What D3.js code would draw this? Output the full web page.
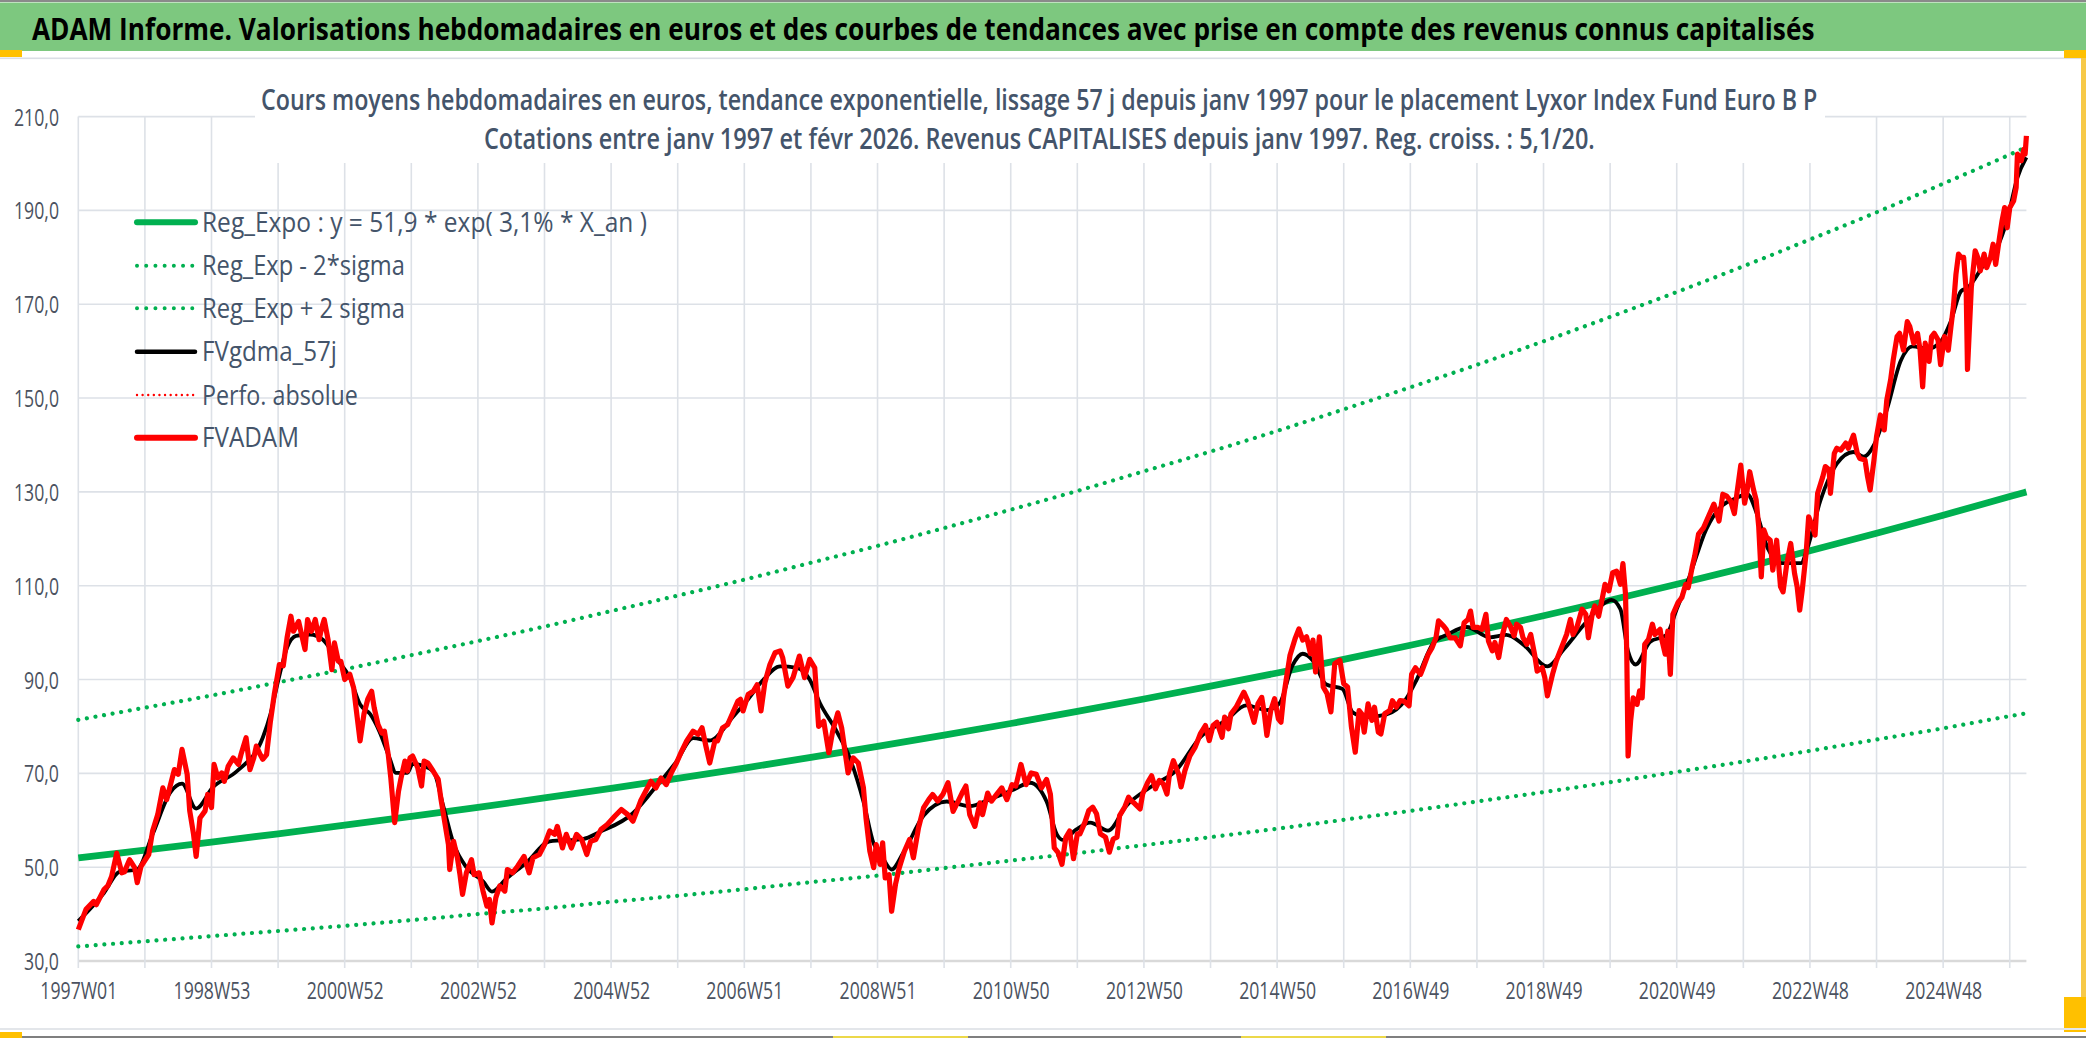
<!DOCTYPE html>
<html><head><meta charset="utf-8">
<script src="https://cdn.jsdelivr.net/npm/d3@7/dist/d3.min.js"></script>
<style>
html,body{margin:0;padding:0;background:#fff;}
svg{display:block;}
text{font-family:"Open Sans","Noto Sans",sans-serif;}
</style></head>
<body>
<script>
// ---------------- DATA ----------------
const mainTitle = "ADAM Informe. Valorisations hebdomadaires en euros et des courbes de tendances avec prise en compte des revenus connus capitalisés";
const subTitle1 = "Cours moyens hebdomadaires en euros, tendance exponentielle, lissage 57 j depuis janv 1997 pour le placement Lyxor Index Fund Euro B P";
const subTitle2 = "Cotations entre janv 1997 et févr 2026. Revenus CAPITALISES depuis janv 1997. Reg. croiss. : 5,1/20.";

const yTicks = [30,50,70,90,110,130,150,170,190,210];
const xLabelWeeks = [0,104,208,312,416,520,624,728,832,936,1040,1144,1248,1352,1456];
const xLabels = ["1997W01","1998W53","2000W52","2002W52","2004W52","2006W51","2008W51","2010W50","2012W50","2014W50","2016W49","2018W49","2020W49","2022W48","2024W48"];
const xGridWeeks = [0,52,104,156,208,260,312,364,416,468,520,572,624,676,728,780,832,884,936,988,1040,1092,1144,1196,1248,1300,1352,1404,1456,1508];
const lastWeek = 1521;

const legendLabels = ["Reg_Expo : y = 51,9 * exp( 3,1% *  X_an )","Reg_Exp - 2*sigma","Reg_Exp + 2 sigma","FVgdma_57j","Perfo. absolue","FVADAM"];

// regression curves read at each yearly gridline
const regWeeks = [0,52,104,156,208,260,312,364,416,468,520,572,624,676,728,780,832,884,936,988,1040,1092,1144,1196,1248,1300,1352,1404,1456,1508,1521];
const regValues = [52.0,53.65,55.36,57.12,58.94,60.82,62.75,64.75,66.81,68.94,71.13,73.40,75.73,78.14,80.63,83.20,85.85,88.58,91.40,94.31,97.31,100.41,103.60,106.90,110.30,113.81,117.44,121.17,125.03,129.01,130.0];
const upperValues = [81.4,84.0,86.6,89.4,92.2,95.2,98.2,101.3,104.6,107.9,111.3,114.9,118.5,122.3,126.2,130.2,134.4,138.6,143.0,147.6,152.3,157.1,162.1,167.3,172.6,178.1,183.8,189.6,195.7,201.9,203.5];
const lowerValues = [33.1,34.2,35.3,36.4,37.5,38.7,40.0,41.2,42.6,43.9,45.3,46.8,48.2,49.8,51.4,53.0,54.7,56.4,58.2,60.1,62.0,64.0,66.0,68.1,70.3,72.5,74.8,77.2,79.6,82.2,82.8];

// FVADAM (weekly index, value)
const redWeeks = [0,6,12,14,20,23,26,30,34,36,40,44,46,49,55,58,62,66,69,72,75,78,81,85,87,90,92,95,99,101,104,106,109,112,114,117,121,125,127,131,134,137,139,142,144,147,150,153,157,160,163,166,168,172,174,177,179,182,185,188,190,192,195,198,200,203,205,208,212,215,217,220,223,226,229,231,234,237,239,242,244,247,250,252,255,257,259,261,265,268,270,273,277,281,283,286,289,290,293,296,298,300,303,307,309,313,316,319,321,323,326,329,333,335,339,343,348,352,355,360,364,368,372,374,378,381,385,389,393,397,400,404,408,413,419,424,429,433,436,439,443,447,451,455,459,463,467,471,475,480,484,487,490,493,497,499,503,507,511,515,517,519,523,527,530,533,536,540,544,548,550,554,558,563,567,571,575,578,582,586,589,593,596,601,605,609,613,615,618,621,623,626,628,630,633,635,638,641,645,649,652,656,660,664,667,671,675,679,683,687,690,693,696,700,704,706,710,713,717,721,725,729,732,736,740,744,748,752,756,759,762,765,768,771,774,777,780,782,786,789,792,795,798,802,805,808,811,813,817,820,822,825,829,831,835,838,841,844,847,850,852,855,859,861,864,868,872,876,880,883,886,889,893,895,898,900,904,910,913,918,921,924,926,928,931,934,937,939,941,943,946,950,953,956,959,962,964,966,969,972,975,978,981,985,988,991,994,997,1000,1002,1004,1007,1010,1012,1015,1017,1020,1024,1026,1029,1032,1035,1039,1041,1044,1048,1050,1054,1057,1060,1062,1066,1068,1071,1075,1079,1082,1085,1087,1089,1093,1096,1099,1101,1104,1106,1109,1112,1115,1118,1121,1123,1126,1128,1131,1134,1137,1139,1143,1145,1147,1151,1154,1158,1162,1165,1167,1170,1174,1177,1179,1182,1184,1187,1190,1192,1195,1198,1201,1204,1206,1208,1209,1210,1212,1214,1217,1219,1221,1223,1226,1229,1231,1235,1236,1239,1241,1243,1245,1249,1252,1255,1257,1260,1262,1265,1269,1273,1277,1281,1284,1287,1290,1293,1295,1298,1301,1303,1305,1308,1310,1312,1314,1316,1318,1321,1323,1326,1329,1331,1334,1337,1340,1342,1344,1346,1349,1351,1354,1356,1358,1362,1364,1367,1368,1371,1373,1376,1380,1382,1386,1389,1391,1395,1397,1399,1402,1404,1407,1410,1412,1415,1417,1420,1422,1425,1428,1430,1433,1436,1438,1440,1442,1445,1447,1449,1452,1454,1457,1460,1462,1464,1466,1468,1470,1472,1474,1475,1478,1481,1483,1485,1488,1490,1493,1495,1497,1500,1502,1504,1506,1508,1511,1513,1514,1517,1519,1520,1521];
const redValues = [36.7,41,42.7,42,45.2,46,48,53,48.8,49,51.6,49.9,46.7,50.2,52.7,57.7,61.2,66.9,64.4,67.6,70.8,69.8,75.1,69.8,62,57,52.3,60.5,62,65.5,62.7,71.9,69,70.1,68.3,71.5,73.3,71.9,74,77.6,70.8,73.3,75.8,74,73,74,81.1,86.8,93.2,92.9,98.9,103.5,100.3,102.4,100,96.4,102.8,100.3,102.8,98.5,101,102.8,98.5,92.1,97.8,93.9,93.9,90,91.1,88.2,83.6,76.9,82.6,85.8,87.5,84,80.4,78.6,79,74,69,59.5,66.2,69,72.6,70.5,73.3,73.7,71.2,67.3,72.6,72.2,70.5,68.7,64.8,59.8,54.8,49.5,55.5,52,48.4,44.2,48.8,51.6,48.4,48.8,44.9,41.7,43.1,38.1,43.5,46,44.9,49.5,48.8,50.2,52.3,48.8,52,52.7,54.8,57.7,57,58.7,54.1,57,54.1,57,55.9,52.7,55.5,55.9,58,59.1,60.9,62.3,61.2,59.8,61.9,64.1,66.2,68.3,66.9,69,67.6,70.1,72.2,74.7,76.9,79,78.3,79.7,75.8,72.2,76.9,76.9,79.7,80.4,82.9,85.4,85.8,83.3,86.8,87.5,88.9,83.3,89.3,93.2,95.7,96.1,94.6,88.6,90.4,95,90.4,94.3,92.5,80,81.1,74.4,79,82.9,79.7,70.1,73.3,72.2,66.9,60.5,53.4,49.9,54.8,50.6,55.2,47.7,48.4,40.6,46.3,49.9,53.4,55.9,52,58.4,62.7,64.4,65.5,64.1,65.5,68,61.9,64.1,65.8,67.3,61.2,58.7,63.7,61.2,65.8,64.1,65.5,66.9,64.4,67.6,67.3,71.9,67.6,70.1,69.8,66.9,68.7,65.5,54.1,53.1,50.6,56.3,57.7,51.8,57.1,57.1,59.6,62.1,62.8,61.4,57.1,56.4,53.2,56,56.4,61,62.8,64.9,64.2,63.5,62.4,65.6,68.1,69.5,66.7,68.5,67.8,65.6,69.9,72.7,69.9,67.1,70.6,73.8,75.6,78.4,80.2,77,80.2,80.9,77.7,82,79.5,82.7,84.1,87.3,85.5,80.9,84.8,86.2,82.7,78.1,83.4,85.9,81.6,80.9,86.2,89.8,95.1,98.7,100.8,98.4,99.1,95.5,98.4,91.6,99.1,88.4,87,83.1,93.4,94.1,89.1,88.4,79.9,74.5,83.4,82.7,78.8,84.8,81.3,84.1,78.8,78.4,82.7,83.4,85.5,84.1,85.5,85.4,84.4,91.1,92.5,91.1,92.5,95.4,96.8,98.9,102.5,101.4,100.7,98.9,98.9,97.2,102.1,102.8,104.6,101.1,101.1,100.7,103.9,98.2,96.1,97.9,94.7,99.6,102.8,101.4,99.3,101.8,101.1,98.9,97.5,99.6,95.4,91.8,92.5,90.4,86.5,91.1,94,96.8,99.6,102.8,99.6,101.1,105,103.9,98.9,103.9,105.7,103.5,107.5,110.3,108.9,112.8,113.1,110.3,114.7,108.2,95,73.7,81.2,86.1,84.7,87.6,86.1,97.5,98.6,101.8,99.6,100.7,98.9,95.4,100.3,91.1,103.9,106.4,107.5,110.3,109.6,113.9,116.3,121,122.4,124.9,127.4,123.8,129.5,129.1,128.1,125.4,129.7,135.7,127.6,130.4,134.3,130.4,128.3,122.6,111.9,121.9,120.4,119.7,113.3,119.7,109.8,108.7,114.8,119,112.6,109.8,104.8,109.1,116.9,124.7,122.6,120.8,129.7,133.2,135.4,134.7,129.7,138.2,139.3,138.9,140.4,139.3,142.1,138.2,137.1,136.8,133.2,130.4,136.8,141.8,146.4,143.2,149.6,153.9,158.1,163.1,163.8,160.2,166.3,165.2,161.7,163.8,160.2,152.4,161.7,157.8,163.1,163.8,162.4,157.1,163.1,160.2,165,169.5,176.4,180.7,180,180,172.8,156.1,173.6,181.4,180,177.1,180.7,177.8,180,182.8,178.5,184.2,187.8,190.6,186.3,190.6,192,194.9,202,200.6,203,202,205.9];

// FVgdma_57j (smoothed)
const blackWeeks = [0,20,32,46,58,72,81,92,105,124,144,150,156,163,170,181,191,202,212,220,228,235,243,248,257,261,277,285,293,303,316,323,334,350,368,394,407,433,449,467,480,493,511,522,535,548,561,571,579,592,602,613,621,628,635,644,660,678,696,712,730,743,756,764,769,779,790,804,818,839,857,876,896,912,928,938,948,956,964,974,987,995,1006,1021,1037,1045,1058,1069,1084,1102,1115,1128,1147,1160,1175,1191,1197,1204,1210,1216,1227,1240,1248,1258,1271,1284,1293,1303,1311,1319,1330,1345,1350,1360,1373,1386,1394,1402,1412,1423,1432,1444,1454,1462,1470,1475,1488,1498,1506,1514,1521];
const blackValues = [38.5,44.5,49,49.5,57,66,67.8,62.5,67,70.5,77.6,82.6,89.7,96.8,99.3,99.6,98.5,94.3,90.4,84.7,82.6,79,73.3,70.1,70.1,72,70.5,63,55,50,47,44.8,47.5,51,55.5,56,57.5,61.5,66.5,72.5,77.5,77,82,85.5,90,92.8,92.5,90,85,79,73.5,64,55,52,49.5,53,61,64,63,64.5,66.5,68,64,57,55.8,58,59.5,57.8,63,67.4,70.6,77.7,81.3,84.5,83.5,85,93,95.5,94,89,88,83,82,82.5,86,90,97.8,99.6,101.2,99,99.5,97.5,92.8,96.5,101.5,106.2,107,105,96,93.2,98,99.5,105,112,122,127.2,128.5,129.5,125,118,114.8,114.8,118,128,136,138.5,137.5,140,147.5,158,161,160.5,162,166.4,172.8,173.5,178.5,182,188,197,201.3];

// ---------------- DRAW ----------------
const W = 2086, H = 1038;
const svg = d3.select("body").append("svg").attr("width", W).attr("height", H);
svg.append("rect").attr("width", W).attr("height", H).attr("fill", "#fff");

// squeeze a text horizontally to a target width (keeps glyph height)
function fit(sel, width) {
  sel.each(function () {
    const n = this;
    const w = typeof width === "function" ? width(n) : width;
    const L = n.getComputedTextLength();
    const s = L > 0 ? w / L : 1;
    const tx = +n.getAttribute("x") || 0;
    const ty = +n.getAttribute("y") || 0;
    n.setAttribute("x", 0);
    n.setAttribute("y", 0);
    n.setAttribute("transform", `translate(${tx},${ty}) scale(${s},1)`);
  });
}

// frame / spreadsheet decorations
svg.append("rect").attr("x",0).attr("y",0).attr("width",W).attr("height",2).attr("fill","#8a8a8a");
svg.append("rect").attr("x",0).attr("y",2.5).attr("width",W).attr("height",48.5).attr("fill","#7dc87f");
svg.append("rect").attr("x",0).attr("y",57.5).attr("width",W).attr("height",1.6).attr("fill","#dadee5");
svg.append("rect").attr("x",0).attr("y",50).attr("width",22).attr("height",7).attr("fill","#ffc000");
svg.append("rect").attr("x",2064).attr("y",50).attr("width",22).attr("height",8).attr("fill","#ffc000");
svg.append("rect").attr("x",2081).attr("y",58).attr("width",5).attr("height",940).attr("fill","#f7c948");
svg.append("rect").attr("x",2064).attr("y",997).attr("width",22).attr("height",35).attr("fill","#ffc000");
svg.append("rect").attr("x",0).attr("y",1028).attr("width",W).attr("height",2).attr("fill","#e3e6ea");
svg.append("rect").attr("x",0).attr("y",1036).attr("width",W).attr("height",2).attr("fill","#7f7f7f");
svg.append("rect").attr("x",0).attr("y",1032).attr("width",22).attr("height",6).attr("fill","#ffc000");
svg.append("rect").attr("x",833).attr("y",1036).attr("width",135).attr("height",2).attr("fill","#ecd84a");
svg.append("rect").attr("x",1241).attr("y",1036).attr("width",145).attr("height",2).attr("fill","#ecd84a");

svg.append("text").attr("x",32).attr("y",40).attr("font-size",31).attr("font-weight","bold")
  .attr("fill","#000").text(mainTitle).call(fit, 1783);

// scales
const x = d3.scaleLinear().domain([0, lastWeek]).range([78.3, 2026.4]);
const y = d3.scaleLinear().domain([30, 210]).range([961, 116.6]);

const gridColor = "#dde1e7";
svg.append("g").selectAll("line").data(yTicks).join("line")
  .attr("x1", x(0)).attr("x2", x(lastWeek))
  .attr("y1", d => y(d)).attr("y2", d => y(d))
  .attr("stroke", d => d === 30 ? "#d9d9d9" : gridColor)
  .attr("stroke-width", d => d === 30 ? 2.6 : 1.6);
svg.append("g").selectAll("line").data(xGridWeeks).join("line")
  .attr("x1", d => x(d)).attr("x2", d => x(d))
  .attr("y1", y(210)).attr("y2", y(30) + 7)
  .attr("stroke", gridColor).attr("stroke-width", 1.6);

// chart title box (white, covers gridlines)
svg.append("rect").attr("x",255).attr("y",66).attr("width",1570).attr("height",97).attr("fill","#fff");
svg.append("text").attr("x",261).attr("y",110).attr("font-size",29).attr("font-weight",600)
  .attr("fill","#44546a").text(subTitle1).call(fit, 1557);
svg.append("text").attr("x",484).attr("y",148.5).attr("font-size",29).attr("font-weight",600)
  .attr("fill","#44546a").text(subTitle2).call(fit, 1111);

// axes (labels only)
const labelColor = "#4b5260";
const yAxis = svg.append("g").attr("transform","translate(59,0)")
  .call(d3.axisLeft(y).tickValues(yTicks).tickSize(0).tickPadding(0)
    .tickFormat(d => d.toFixed(1).replace(".", ",")));
yAxis.select(".domain").remove();
yAxis.selectAll("text").attr("x",0).attr("dy","8.5px").attr("text-anchor","end")
  .attr("font-size",23).attr("font-family",'"Open Sans","Noto Sans",sans-serif').attr("fill",labelColor)
  .call(fit, n => (n.textContent.length - 1) * 10 + 5);

const xAxis = svg.append("g").attr("transform","translate(0,999)")
  .call(d3.axisBottom(x).tickValues(xLabelWeeks).tickSize(0).tickPadding(0)
    .tickFormat((d,i) => xLabels[i]));
xAxis.select(".domain").remove();
xAxis.selectAll("text").attr("y",0).attr("dy",0)
  .attr("font-size",23).attr("font-family",'"Open Sans","Noto Sans",sans-serif').attr("fill",labelColor)
  .call(fit, 77);

// series
const green = "#00b050";
const lineMono = d3.line().x(d => x(d[0])).y(d => y(d[1])).curve(d3.curveMonotoneX);
const lineLin = d3.line().x(d => x(d[0])).y(d => y(d[1]));

svg.append("path").datum(d3.zip(regWeeks, lowerValues)).attr("d", lineMono)
  .attr("fill","none").attr("stroke",green).attr("stroke-width",4.2)
  .attr("stroke-linecap","round").attr("stroke-dasharray","0.01 8.7");
svg.append("path").datum(d3.zip(regWeeks, upperValues)).attr("d", lineMono)
  .attr("fill","none").attr("stroke",green).attr("stroke-width",4.2)
  .attr("stroke-linecap","round").attr("stroke-dasharray","0.01 8.7");
svg.append("path").datum(d3.zip(regWeeks, regValues)).attr("d", lineMono)
  .attr("fill","none").attr("stroke",green).attr("stroke-width",6.8);
svg.append("path").datum(d3.zip(blackWeeks, blackValues)).attr("d", lineMono)
  .attr("fill","none").attr("stroke","#000").attr("stroke-width",3.8).attr("stroke-linejoin","round");
svg.append("path").datum(d3.zip(redWeeks, redValues)).attr("d", lineLin)
  .attr("fill","none").attr("stroke","#ff0000").attr("stroke-width",5.2).attr("stroke-linejoin","round");

// legend
const legRows = [222.3, 265.7, 308.3, 351.7, 395, 437.7];
const legWidths = [445, 203, 203, 135, 156, 97];
const legStyles = [
  {c:green, w:6, dash:null},
  {c:green, w:4, dash:"0.01 9.2"},
  {c:green, w:4, dash:"0.01 9.2"},
  {c:"#000", w:4.5, dash:null},
  {c:"#ff0000", w:2.4, dash:"0.01 5.6"},
  {c:"#ff0000", w:6, dash:null}
];
const leg = svg.append("g");
legendLabels.forEach((lab, i) => {
  const s = legStyles[i];
  const ln = leg.append("line").attr("x1",137).attr("x2",195).attr("y1",legRows[i]).attr("y2",legRows[i])
    .attr("stroke",s.c).attr("stroke-width",s.w).attr("stroke-linecap","round");
  if (s.dash) ln.attr("stroke-dasharray", s.dash);
  leg.append("text").attr("x",202).attr("y",legRows[i] + 9.6).attr("font-size",26.5)
    .attr("fill","#44546a").text(lab).call(fit, legWidths[i]);
});
</script>
</body></html>
